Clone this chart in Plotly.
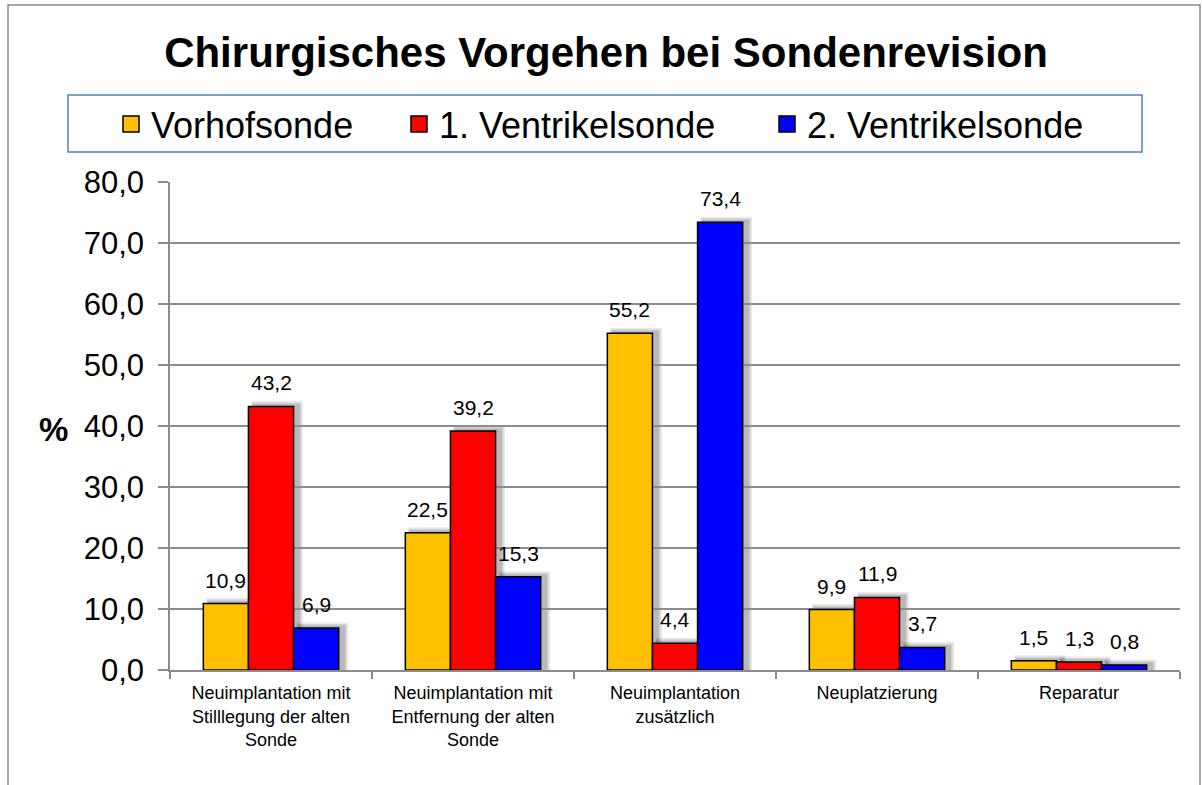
import plotly.graph_objects as go

categories = [
    "Neuimplantation mit<br>Stilllegung der alten<br>Sonde",
    "Neuimplantation mit<br>Entfernung der alten<br>Sonde",
    "Neuimplantation<br>zusätzlich",
    "Neuplatzierung",
    "Reparatur",
]
series_names = ["Vorhofsonde", "1. Ventrikelsonde", "2. Ventrikelsonde"]
vorhof = [10.9, 22.5, 55.2, 9.9, 1.5]
ventrikel1 = [43.2, 39.2, 4.4, 11.9, 1.3]
ventrikel2 = [6.9, 15.3, 73.4, 3.7, 0.8]
y_ticks = [0, 10, 20, 30, 40, 50, 60, 70, 80]

series_values = [vorhof, ventrikel1, ventrikel2]
colors = ["#FFC000", "#FF0000", "#0000FF"]
FONT = "Arial, 'Liberation Sans', sans-serif"

W, H = 1202, 785
ML, MR, MT, MB = 170, 22, 182, 115
PW, PH = W - ML - MR, H - MT - MB

def px_x(px):
    return (px - ML) / PW

def px_y(py):
    return (H - MB - py) / PH

bargap = 0.33
nser = len(series_names)
bw = (1 - bargap) / nser
cat_px = PW / len(categories)

fig = go.Figure()
legend_keys = ["legend", "legend2", "legend3"]
for j, (name, vals, col) in enumerate(zip(series_names, series_values, colors)):
    fig.add_trace(go.Bar(
        name=name, x=categories, y=vals,
        marker=dict(color=col, line=dict(color="black", width=1.5)),
        showlegend=False,
    ))
# legend entries (larger square swatches, as in the original legend)
for j, (name, col) in enumerate(zip(series_names, colors)):
    fig.add_trace(go.Scatter(
        name=name, x=[None], y=[None], mode="markers",
        marker=dict(symbol="square", size=16, color=col,
                    line=dict(color="black", width=1.5)),
        legend=legend_keys[j], showlegend=True, hoverinfo="skip",
    ))

# soft shadows (computed from data positions)
shapes = []
dx = 5 / cat_px
for j, vals in enumerate(series_values):
    for i, v in enumerate(vals):
        x0 = i - (1 - bargap) / 2 + j * bw
        x1 = x0 + bw
        for k, op in enumerate([0.08, 0.10, 0.12]):
            g = (3 - k) * 1.5
            shapes.append(dict(
                type="rect", xref="x", yref="y", layer="below",
                x0=x0 + dx - g / cat_px * 0.5, x1=x1 + dx + g / cat_px,
                y0=0, y1=v + (1 + g) / (PH / 80),
                fillcolor=f"rgba(0,0,0,{op})", line=dict(width=0),
            ))

# legend frame
shapes.append(dict(type="rect", xref="paper", yref="paper",
                   x0=px_x(68), x1=px_x(1142), y0=px_y(152), y1=px_y(95),
                   line=dict(color="#4F81BD", width=1.5), fillcolor="rgba(0,0,0,0)"))
# outer chart frame
shapes.append(dict(type="rect", xref="paper", yref="paper",
                   x0=px_x(8), x1=px_x(1200), y0=px_y(820), y1=px_y(5),
                   line=dict(color="#8C8C8C", width=1.5), fillcolor="rgba(0,0,0,0)"))

annotations = []
for j, vals in enumerate(series_values):
    for i, v in enumerate(vals):
        annotations.append(dict(
            x=i - (1 - bargap) / 2 + (j + 0.5) * bw, y=v, xref="x", yref="y",
            text=f"{v:.1f}".replace(".", ","), showarrow=False,
            yanchor="bottom", yshift=10,
            font=dict(family=FONT, size=21, color="black"),
        ))
annotations.append(dict(
    x=px_x(37), y=px_y(429), xref="paper", yref="paper", text="<b>%</b>",
    showarrow=False, font=dict(family=FONT, size=33, color="black"),
))

leg_common = dict(orientation="h", yanchor="middle", xanchor="left",
                  bgcolor="rgba(0,0,0,0)", borderwidth=0, itemsizing="trace",
                  font=dict(family=FONT, size=36, color="black"))
text_starts = [152, 440, 808]

fig.update_layout(
    width=W, height=H,
    margin=dict(l=ML, r=MR, t=MT, b=MB, autoexpand=False),
    paper_bgcolor="white", plot_bgcolor="white",
    separators=",.",
    showlegend=True,
    barmode="group", bargap=bargap, bargroupgap=0,
    title=dict(text="<b>Chirurgisches Vorgehen bei Sondenrevision</b>",
               x=606 / W, xanchor="center", y=1 - 52 / H, yanchor="middle",
               font=dict(family=FONT, size=42, color="black")),
    legend=dict(x=px_x(text_starts[0] - 41), y=px_y(124), **leg_common),
    legend2=dict(x=px_x(text_starts[1] - 41), y=px_y(124), **leg_common),
    legend3=dict(x=px_x(text_starts[2] - 41), y=px_y(124), **leg_common),
    shapes=shapes,
    annotations=annotations,
    xaxis=dict(
        showgrid=False, showline=True, linecolor="#8C8C8C", linewidth=1.5,
        ticks="outside", tickson="boundaries", ticklen=7, tickcolor="#8C8C8C",
        tickwidth=1.5, ticklabelstandoff=6,
        tickfont=dict(family=FONT, size=18, color="black"),
    ),
    yaxis=dict(
        range=[0, 80], tickvals=y_ticks, tickformat=".1f",
        showgrid=True, gridcolor="#8C8C8C", gridwidth=1.5,
        showline=True, linecolor="#8C8C8C", linewidth=1.5,
        ticks="outside", ticklen=10, tickcolor="#8C8C8C", tickwidth=1.5,
        ticklabelstandoff=8,
        tickfont=dict(family=FONT, size=31, color="black"),
        zeroline=False,
    ),
)

fig.write_html("out.html", config={"displayModeBar": False},
               post_script="document.body.style.margin='0';document.body.style.overflow='hidden';")
